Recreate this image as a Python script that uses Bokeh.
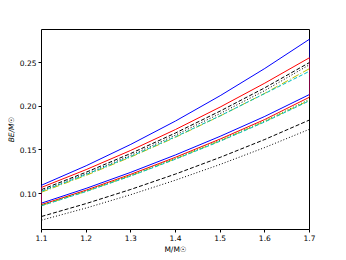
from bokeh.plotting import figure
from bokeh.embed import file_html
from bokeh.resources import INLINE
from bokeh.models import Range1d, FixedTicker

# Mass grid (M / Msun)
mass = [1.1, 1.2, 1.3, 1.4, 1.5, 1.6, 1.7]

# Upper group of curves (BE / Msun)
blue_upper = [0.1095, 0.1318, 0.1563, 0.1830, 0.2120, 0.2432, 0.2767]
red_upper = [0.1070, 0.1274, 0.1494, 0.1733, 0.1990, 0.2264, 0.2555]
black_dash_upper = [0.1045, 0.1244, 0.1459, 0.1693, 0.1944, 0.2211, 0.2500]
black_dot_upper = [0.1030, 0.1226, 0.1438, 0.1669, 0.1916, 0.2179, 0.2475]
yellow_upper = [0.1015, 0.1208, 0.1418, 0.1644, 0.1888, 0.2148, 0.2430]
cyan_upper = [0.1025, 0.1218, 0.1425, 0.1650, 0.1890, 0.2145, 0.2400]

# Lower group of curves
blue_lower = [0.0890, 0.1059, 0.1243, 0.1442, 0.1655, 0.1883, 0.2134]
red_lower = [0.0873, 0.1039, 0.1220, 0.1415, 0.1624, 0.1848, 0.2103]
green_lower = [0.0866, 0.1030, 0.1209, 0.1402, 0.1610, 0.1832, 0.2078]
yellow_lower = [0.0862, 0.1026, 0.1204, 0.1397, 0.1603, 0.1825, 0.2068]
cyan_lower = [0.0860, 0.1023, 0.1201, 0.1393, 0.1599, 0.1820, 0.2062]
black_dash_lower = [0.0737, 0.0885, 0.1047, 0.1223, 0.1414, 0.1619, 0.1842]
black_dot_lower = [0.0695, 0.0834, 0.0987, 0.1153, 0.1333, 0.1527, 0.1736]

x_ticks = [1.1, 1.2, 1.3, 1.4, 1.5, 1.6, 1.7]
y_ticks = [0.10, 0.15, 0.20, 0.25]

p = figure(output_backend="svg", toolbar_location=None,
           frame_width=268, frame_height=200,
           min_border_left=41, min_border_right=21,
           min_border_top=29, min_border_bottom=22,
           x_range=Range1d(1.1, 1.7), y_range=Range1d(0.0588, 0.2878))

p.xgrid.visible = False
p.ygrid.visible = False
p.outline_line_color = "black"
p.outline_line_width = 1
p.background_fill_color = "white"
p.border_fill_color = "white"

lw = 1.0
# closed loops for red and blue (upper forward, lower backward)
p.line(mass + mass[::-1] + [mass[0]], blue_upper + blue_lower[::-1] + [blue_upper[0]],
       line_color="#0000ff", line_width=lw)
p.line(mass + mass[::-1] + [mass[0]], red_upper + red_lower[::-1] + [red_upper[0]],
       line_color="#ff0000", line_width=lw)

p.line(mass, black_dash_upper, line_color="black", line_width=lw, line_dash="4 2")
p.line(mass, black_dot_upper, line_color="black", line_width=lw, line_dash="1 2")
p.line(mass, yellow_upper, line_color="#bfbf00", line_width=lw, line_dash="7 2 1 2")
p.line(mass, cyan_upper, line_color="#00bfbf", line_width=lw, line_dash="4 2")

p.line(mass, green_lower, line_color="#008000", line_width=lw, line_dash="1 2")
p.line(mass, yellow_lower, line_color="#bfbf00", line_width=lw, line_dash="7 2 1 2")
p.line(mass, cyan_lower, line_color="#00bfbf", line_width=lw, line_dash="4 2")
p.line(mass, black_dash_lower, line_color="black", line_width=lw, line_dash="4 2")
p.line(mass, black_dot_lower, line_color="black", line_width=lw, line_dash="1 2")

p.xaxis.ticker = FixedTicker(ticks=x_ticks)
p.yaxis.ticker = FixedTicker(ticks=y_ticks)
p.xaxis.major_label_overrides = {t: f"{t:.1f}" for t in x_ticks}
p.yaxis.major_label_overrides = {t: f"{t:.2f}" for t in y_ticks}

for ax in (p.xaxis[0], p.yaxis[0]):
    ax.major_tick_out = 3
    ax.major_tick_in = 0
    ax.minor_tick_out = 0
    ax.minor_tick_in = 0
    ax.axis_line_color = None
    ax.major_tick_line_color = "black"
    ax.major_label_text_font = "DejaVu Sans"
    ax.major_label_text_font_size = "7.5px"
    ax.major_label_text_color = "black"
    ax.axis_label_text_font = "DejaVu Sans"
    ax.axis_label_text_font_size = "7.5px"
    ax.axis_label_text_color = "black"
    ax.major_label_standoff = 2
    ax.axis_label_standoff = 1

p.xaxis.axis_label = "M/M☉"
p.xaxis.axis_label_text_font_style = "normal"
p.yaxis.axis_label = "BE/M☉"
p.yaxis.axis_label_text_font_style = "italic"

open("out.html", "w").write(file_html(p, INLINE))
